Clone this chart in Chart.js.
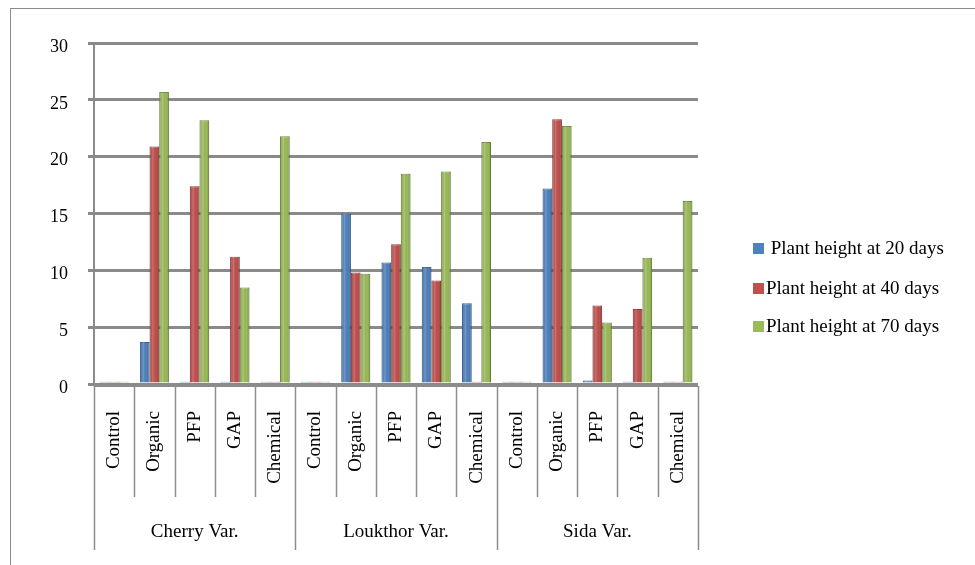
<!DOCTYPE html>
<html>
<head>
<meta charset="utf-8">
<script src="https://cdn.jsdelivr.net/npm/chart.js@4.4.1/dist/chart.umd.min.js"></script>
<style>
  html, body { margin: 0; padding: 0; background: #fff; }
  #wrap { width: 975px; height: 565px; position: relative; }
</style>
</head>
<body>
<div id="wrap"><canvas id="grafico" width="975" height="565"></canvas></div>
<script>
// --- DATA ---
const varieties = ['Cherry Var.', 'Loukthor Var.', 'Sida Var.'];
const treatments = ['Control', 'Organic', 'PFP', 'GAP', 'Chemical'];
const seriesLabels = [' Plant height at 20 days', 'Plant height at 40 days', 'Plant height at 70 days'];
const height20 = [0.2, 3.7, 0.2, 0.2, 0.2,   0.2, 15.0, 10.7, 10.3, 7.1,   0.2, 17.2, 0.3, 0.2, 0.2];
const height40 = [0.2, 20.9, 17.4, 11.2, 0.2, 0.2, 9.8, 12.3, 9.1, 0.2,    0.2, 23.3, 6.9, 6.6, 0.2];
const height70 = [0.2, 25.7, 23.2, 8.5, 21.8, 0.2, 9.7, 18.5, 18.7, 21.3,  0.2, 22.7, 5.4, 11.1, 16.1];
const yTicks = [0, 5, 10, 15, 20, 25, 30];

const labels = [];
varieties.forEach(v => treatments.forEach(t => labels.push(t)));

const fillColors = ['#4F81BD', '#C0504D', '#9BBB59'];
const edgeColors = ['#3A6597', '#943C3A', '#76923F'];
const FONT = "'Liberation Serif', 'Times New Roman', serif";

// Plugin: outer frame, category axis with two levels, legend
const eixoPlugin = {
    id: 'eixoPlugin',
    beforeDraw(chart) {
        const ctx = chart.ctx;
        ctx.save();
        ctx.strokeStyle = '#8c8c8c';
        ctx.lineWidth = 1;
        ctx.strokeRect(10.5, 8.5, 1000, 600);
        ctx.restore();
    },
    afterDatasetsDraw(chart) {
        // cylinder-like shading on the bars
        const ctx = chart.ctx;
        ctx.save();
        chart.data.datasets.forEach((ds, i) => {
            chart.getDatasetMeta(i).data.forEach(bar => {
                const left = bar.x - bar.width / 2;
                const top = Math.min(bar.y, bar.base);
                const h = Math.abs(bar.base - bar.y);
                const g = ctx.createLinearGradient(left, 0, left + bar.width, 0);
                g.addColorStop(0, 'rgba(0,0,0,0.10)');
                g.addColorStop(0.35, 'rgba(255,255,255,0.18)');
                g.addColorStop(0.7, 'rgba(0,0,0,0.0)');
                g.addColorStop(1, 'rgba(0,0,0,0.18)');
                ctx.fillStyle = g;
                ctx.fillRect(left, top, bar.width, h);
            });
        });
        ctx.restore();
    },
    afterDraw(chart) {
        const ctx = chart.ctx;
        const x = chart.scales.x;
        const area = chart.chartArea;
        const n = labels.length;
        const step = (area.right - area.left) / n;
        const floorY = area.bottom + 2;
        ctx.save();
        ctx.strokeStyle = '#8c8c8c';
        ctx.lineWidth = 2;
        ctx.beginPath();
        ctx.moveTo(area.left, floorY);
        ctx.lineTo(area.right, floorY);
        ctx.stroke();

        ctx.lineWidth = 1.5;
        for (let i = 0; i <= n; i++) {
            const px = Math.round(area.left + i * step) + 0.5;
            const isGroup = i % treatments.length === 0;
            ctx.beginPath();
            ctx.moveTo(px, floorY);
            ctx.lineTo(px, isGroup ? 550 : 497);
            ctx.stroke();
        }

        // rotated treatment labels
        ctx.fillStyle = '#000';
        ctx.font = '19px ' + FONT;
        ctx.textAlign = 'right';
        ctx.textBaseline = 'middle';
        labels.forEach((lab, i) => {
            const cx = x.getPixelForValue(i);
            ctx.save();
            ctx.translate(cx, 411);
            ctx.rotate(-Math.PI / 2);
            ctx.fillText(lab, 0, 0);
            ctx.restore();
        });

        // variety labels
        ctx.textAlign = 'center';
        varieties.forEach((v, g) => {
            const a = x.getPixelForValue(g * treatments.length);
            const b = x.getPixelForValue(g * treatments.length + treatments.length - 1);
            ctx.fillText(v, (a + b) / 2, 532);
        });

        // legend
        ctx.textAlign = 'left';
        const rows = [249, 289, 327];
        chart.data.datasets.forEach((ds, i) => {
            ctx.fillStyle = ds.backgroundColor;
            ctx.fillRect(753, rows[i] - 6, 11, 11);
            ctx.fillStyle = '#000';
            ctx.fillText(ds.label, 766, rows[i]);
        });
        ctx.restore();
    }
};

const ctxGrafico = document.getElementById('grafico');
new Chart(ctxGrafico, {
    type: 'bar',
    data: {
        labels: labels,
        datasets: [height20, height40, height70].map((vals, i) => ({
            label: seriesLabels[i],
            data: vals,
            backgroundColor: fillColors[i],
            borderColor: edgeColors[i],
            borderWidth: 1,
            categoryPercentage: 0.72,
            barPercentage: 1.0
        }))
    },
    options: {
        responsive: false,
        animation: false,
        layout: { padding: { top: 43, right: 277, bottom: 173, left: 0 } },
        scales: {
            x: {
                ticks: { display: false },
                grid: { display: false },
                border: { display: false }
            },
            y: {
                min: 0,
                max: 30,
                afterBuildTicks: scale => { scale.ticks = yTicks.map(v => ({ value: v })); },
                afterFit: scale => { scale.width = 94; },
                ticks: {
                    padding: 20,
                    labelOffset: 4,
                    color: '#000',
                    font: { family: FONT, size: 18 }
                },
                grid: { color: '#8a8a8a', lineWidth: 3, tickLength: 6 },
                border: { color: '#8a8a8a', width: 2 }
            }
        },
        plugins: {
            legend: { display: false },
            tooltip: { enabled: false }
        }
    },
    plugins: [eixoPlugin]
});
</script>
</body>
</html>
